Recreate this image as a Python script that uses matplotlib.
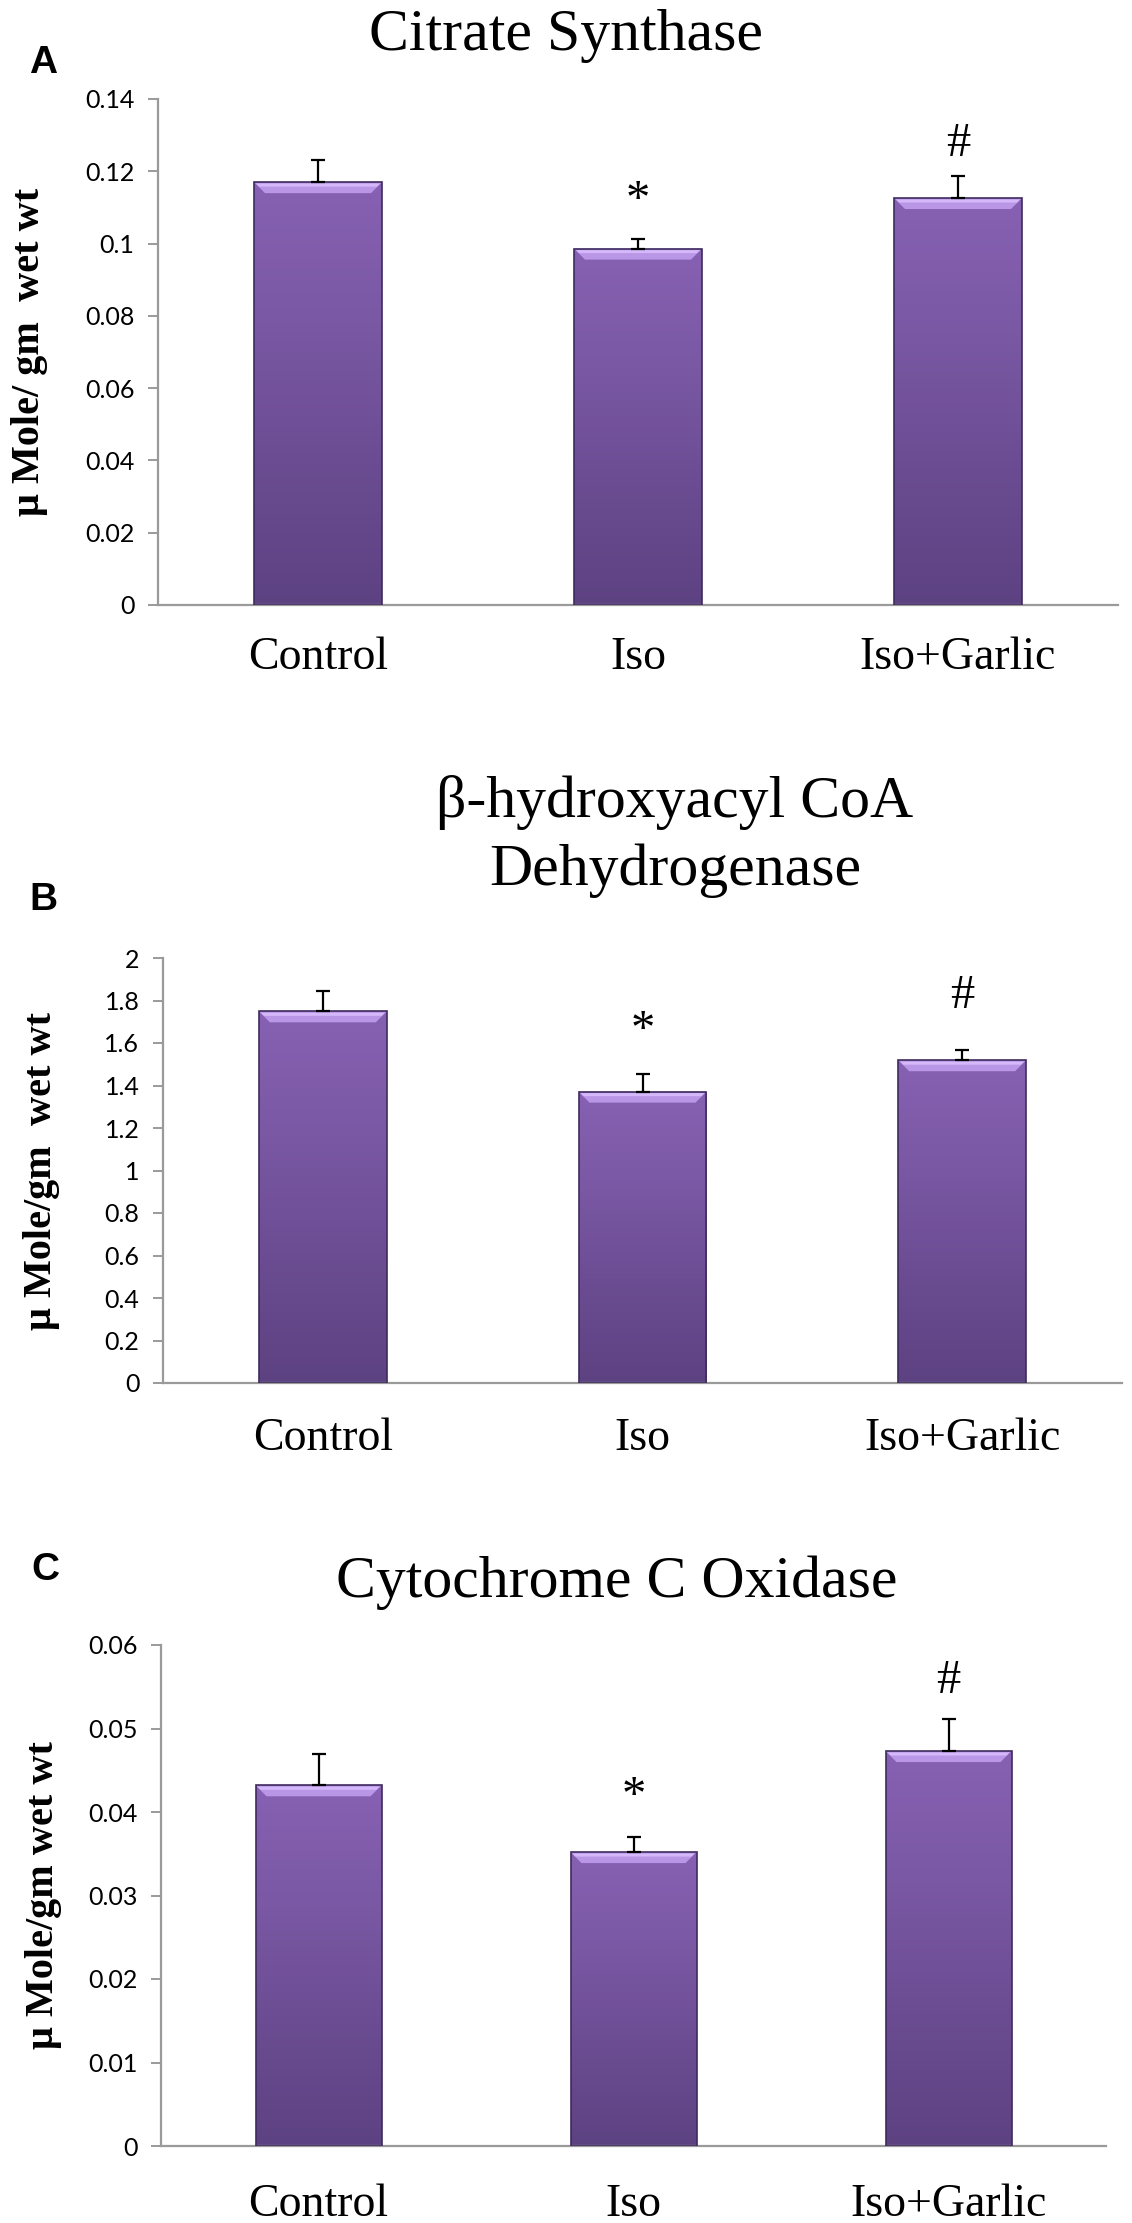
import numpy as np
import matplotlib
matplotlib.use("Agg")
import matplotlib.pyplot as plt
from matplotlib.colors import LinearSegmentedColormap
from matplotlib.patches import Polygon

# ---------------- data ----------------
categories = ["Control", "Iso", "Iso+Garlic"]

cs_values = [0.117, 0.0986, 0.1126]
cs_errors = [0.0062, 0.0028, 0.0062]
cs_marks = ["", "*", "#"]
cs_mark_y = [0, 0.1153, 0.1286]

hcd_values = [1.749, 1.371, 1.519]
hcd_errors = [0.095, 0.085, 0.049]
hcd_marks = ["", "*", "#"]
hcd_mark_y = [0, 1.713, 1.839]

cco_values = [0.0432, 0.0352, 0.0473]
cco_errors = [0.0037, 0.0018, 0.0038]
cco_marks = ["", "*", "#"]
cco_mark_y = [0, 0.0433, 0.0562]

cs_ticks = [0, 0.02, 0.04, 0.06, 0.08, 0.1, 0.12, 0.14]
cs_ticklabels = ["0", "0.02", "0.04", "0.06", "0.08", "0.1", "0.12", "0.14"]
hcd_ticks = [0, 0.2, 0.4, 0.6, 0.8, 1.0, 1.2, 1.4, 1.6, 1.8, 2.0]
hcd_ticklabels = ["0", "0.2", "0.4", "0.6", "0.8", "1", "1.2", "1.4", "1.6", "1.8", "2"]
cco_ticks = [0, 0.01, 0.02, 0.03, 0.04, 0.05, 0.06]
cco_ticklabels = ["0", "0.01", "0.02", "0.03", "0.04", "0.05", "0.06"]

# ---------------- style ----------------
W, H = 1132, 2223
DPI = 100
SERIF = ["Liberation Serif", "DejaVu Serif"]
SANS = ["Lato", "DejaVu Sans"]
BOLD_SANS = ["Liberation Sans", "DejaVu Sans"]
AXIS_GRAY = "#9a9a9a"
EDGE = "#3e2b5e"
grad_cmap = LinearSegmentedColormap.from_list(
    "bar", ["#5d4282", "#6b4c92", "#7a58a4", "#8761b3"])
bevel_color = "#b996e6"
bevel_top = "#d4b8fa"
MARK_OFFSET_PT = {"*": -9, "#": -3}

fig = plt.figure(figsize=(W / DPI, H / DPI), dpi=DPI)
fig.patch.set_facecolor("white")


def axes_px(x0, x1, ytop, ybot):
    return fig.add_axes([x0 / W, 1 - ybot / H, (x1 - x0) / W, (ybot - ytop) / H])


def panel(ax, values, errors, marks, mark_y, ticks, ticklabels, ylabel,
          ylabel_px, xpad, ax_left_px, ax_width_px):
    n = len(categories)
    xs = np.arange(n)
    ax.set_xlim(-0.5, n - 0.5)
    ax.set_ylim(ticks[0], ticks[-1])
    bars = ax.bar(xs, values, width=0.4, facecolor="none", edgecolor=EDGE,
                  linewidth=1.2, zorder=3)
    grad = np.linspace(0, 1, 256).reshape(-1, 1)
    for b in bars:
        x0, y0 = b.get_x(), b.get_y()
        w, h = b.get_width(), b.get_height()
        im = ax.imshow(grad, extent=[x0, x0 + w, y0, y0 + h], origin="lower",
                       aspect="auto", cmap=grad_cmap, zorder=2,
                       interpolation="bilinear")
        im.set_clip_path(b)
        # bevel on top (computed in display space from the bar geometry)
        (dx0, dtop), = ax.transData.transform([(x0, y0 + h)])
        (dx1, _), = ax.transData.transform([(x0 + w, y0 + h)])
        bev, ins = 11, 11
        pts_disp = [(dx0, dtop), (dx1, dtop), (dx1 - ins, dtop - bev), (dx0 + ins, dtop - bev)]
        pts = ax.transData.inverted().transform(pts_disp)
        ax.add_patch(Polygon(pts, closed=True, facecolor=bevel_color,
                             edgecolor="none", zorder=2.5))
        top_pts = ax.transData.inverted().transform(
            [(dx0 + 2, dtop - 1.5), (dx1 - 2, dtop - 1.5), (dx1 - 5, dtop - 4.5), (dx0 + 5, dtop - 4.5)])
        ax.add_patch(Polygon(top_pts, closed=True, facecolor=bevel_top,
                             edgecolor="none", zorder=2.6))
    ax.errorbar(xs, values, yerr=[np.zeros(n), errors], fmt="none",
                ecolor="black", elinewidth=1.6, capsize=4.8, capthick=1.6,
                zorder=4)
    for i, (m, my) in enumerate(zip(marks, mark_y)):
        if m:
            ax.annotate(m, xy=(xs[i], my), xytext=(0, MARK_OFFSET_PT[m]),
                        textcoords="offset points", ha="center", va="center",
                        fontsize=35, family=SERIF, zorder=5)
    for s in ["top", "right"]:
        ax.spines[s].set_visible(False)
    for s in ["left", "bottom"]:
        ax.spines[s].set_color(AXIS_GRAY)
        ax.spines[s].set_linewidth(1.6)
    ax.set_yticks(ticks)
    ax.set_yticklabels(ticklabels, family=SANS, fontsize=18)
    ax.tick_params(axis="y", direction="out", length=7, width=1.4,
                   color=AXIS_GRAY, pad=10)
    ax.set_xticks(xs)
    ax.set_xticklabels(categories, family=SERIF, fontsize=33)
    ax.tick_params(axis="x", length=0, pad=xpad)
    lab = ax.set_ylabel(ylabel)
    lab.set_fontfamily(SERIF)
    lab.set_fontweight("bold")
    lab.set_fontsize(29)
    lab.set_verticalalignment("center")
    lab.set_horizontalalignment("center")
    ax.yaxis.set_label_coords((ylabel_px - ax_left_px) / ax_width_px, 0.5)


axA = axes_px(158, 1118, 99, 605)
panel(axA, cs_values, cs_errors, cs_marks, cs_mark_y, cs_ticks, cs_ticklabels,
      "\u03bc Mole/ gm  wet wt", 30, 23, 158, 960)

axB = axes_px(163, 1122, 958, 1383)
panel(axB, hcd_values, hcd_errors, hcd_marks, hcd_mark_y, hcd_ticks, hcd_ticklabels,
      "\u03bc Mole/gm  wet wt", 42, 25, 163, 959)

axC = axes_px(161, 1106, 1645, 2146)
panel(axC, cco_values, cco_errors, cco_marks, cco_mark_y, cco_ticks, cco_ticklabels,
      "\u03bc Mole/gm wet wt", 44, 27, 161, 945)

# titles
fig.text(566 / W, 1 - 50 / H, "Citrate Synthase", ha="center", va="baseline",
         fontsize=43, family=SERIF)
fig.text(675 / W, 1 - 885 / H, "\u03b2-hydroxyacyl CoA\nDehydrogenase", ha="center",
         va="baseline", fontsize=43, family=SERIF, linespacing=1.33,
         multialignment="center")
fig.text(617 / W, 1 - 1597 / H, "Cytochrome C Oxidase", ha="center", va="baseline",
         fontsize=43, family=SERIF)

# panel letters
for letter, (lx, ly) in zip(["A", "B", "C"], [(43, 63), (43, 900), (45, 1570)]):
    fig.text(lx / W, 1 - ly / H, letter, ha="center", va="center", fontsize=28,
             fontweight="bold", family=BOLD_SANS)

fig.savefig("out.png", dpi=DPI, facecolor="white")
